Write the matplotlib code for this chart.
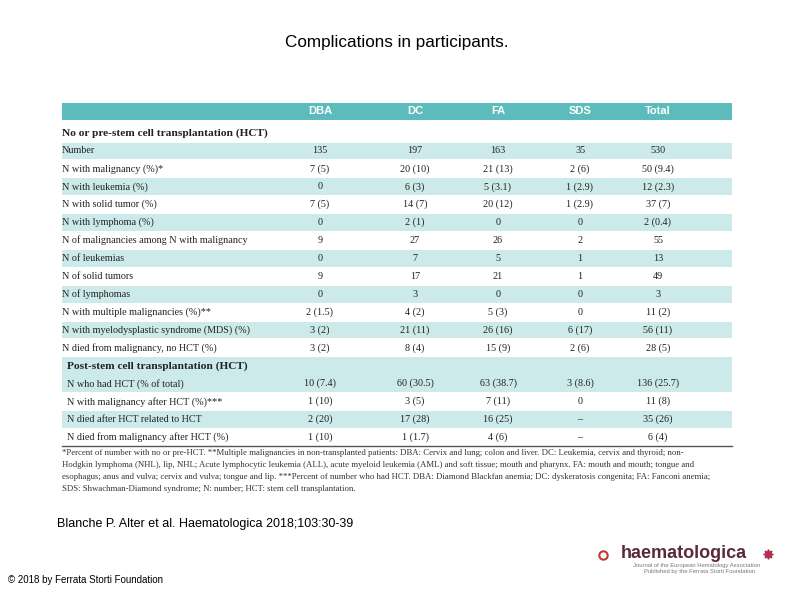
import matplotlib.pyplot as plt
from matplotlib.patches import Rectangle

W, H = 794, 595

columns = ["DBA", "DC", "FA", "SDS", "Total"]
col_x = [320, 415, 498, 580, 658]

section1 = "No or pre-stem cell transplantation (HCT)"
rows1 = [
    "Number",
    "N with malignancy (%)*",
    "N with leukemia (%)",
    "N with solid tumor (%)",
    "N with lymphoma (%)",
    "N of malignancies among N with malignancy",
    "N of leukemias",
    "N of solid tumors",
    "N of lymphomas",
    "N with multiple malignancies (%)**",
    "N with myelodysplastic syndrome (MDS) (%)",
    "N died from malignancy, no HCT (%)",
]
values1 = [
    ["135", "197", "163", "35", "530"],
    ["7 (5)", "20 (10)", "21 (13)", "2 (6)", "50 (9.4)"],
    ["0", "6 (3)", "5 (3.1)", "1 (2.9)", "12 (2.3)"],
    ["7 (5)", "14 (7)", "20 (12)", "1 (2.9)", "37 (7)"],
    ["0", "2 (1)", "0", "0", "2 (0.4)"],
    ["9", "27", "26", "2", "55"],
    ["0", "7", "5", "1", "13"],
    ["9", "17", "21", "1", "49"],
    ["0", "3", "0", "0", "3"],
    ["2 (1.5)", "4 (2)", "5 (3)", "0", "11 (2)"],
    ["3 (2)", "21 (11)", "26 (16)", "6 (17)", "56 (11)"],
    ["3 (2)", "8 (4)", "15 (9)", "2 (6)", "28 (5)"],
]

section2 = "Post-stem cell transplantation (HCT)"
rows2 = [
    "N who had HCT (% of total)",
    "N with malignancy after HCT (%)***",
    "N died after HCT related to HCT",
    "N died from malignancy after HCT (%)",
]
values2 = [
    ["10 (7.4)", "60 (30.5)", "63 (38.7)", "3 (8.6)", "136 (25.7)"],
    ["1 (10)", "3 (5)", "7 (11)", "0", "11 (8)"],
    ["2 (20)", "17 (28)", "16 (25)", "\u2013", "35 (26)"],
    ["1 (10)", "1 (1.7)", "4 (6)", "\u2013", "6 (4)"],
]

footnote = [
    "*Percent of number with no or pre-HCT. **Multiple malignancies in non-transplanted patients: DBA: Cervix and lung; colon and liver. DC: Leukemia, cervix and thyroid; non-",
    "Hodgkin lymphoma (NHL), lip, NHL; Acute lymphocytic leukemia (ALL), acute myeloid leukemia (AML) and soft tissue; mouth and pharynx. FA: mouth and mouth; tongue and",
    "esophagus; anus and vulva; cervix and vulva; tongue and lip. ***Percent of number who had HCT. DBA: Diamond Blackfan anemia; DC: dyskeratosis congenita; FA: Fanconi anemia;",
    "SDS: Shwachman-Diamond syndrome; N: number; HCT: stem cell transplantation.",
]

teal = "#5cbcbc"
light = "#cdeaea"
serif = ["Liberation Serif", "DejaVu Serif"]
narrow = ["Liberation Sans Narrow", "Liberation Sans", "DejaVu Sans"]
sans = ["Liberation Sans", "DejaVu Sans"]

fig = plt.figure(figsize=(W / 100, H / 100), dpi=100)
ax = fig.add_axes([0, 0, 1, 1])
ax.set_xlim(0, W)
ax.set_ylim(H, 0)
ax.axis("off")

left, right = 62, 732
rh = 17.9

# header band
ax.add_patch(Rectangle((left, 103), right - left, 17, color=teal, lw=0))
for c, x in zip(columns, col_x):
    ax.text(x, 111.5, c, ha="center", va="center", color="white",
            fontsize=8, fontweight="bold", family=narrow)

ax.text(left, 133, section1, ha="left", va="center", fontsize=8.2,
        fontweight="bold", family=serif, color="#222222")

top = 142
for i, (lab, vals) in enumerate(zip(rows1, values1)):
    y0 = top + i * rh
    if i % 2 == 0:
        ax.add_patch(Rectangle((left, y0 + 0.5), right - left, rh - 1,
                               color=light, lw=0))
    yc = y0 + rh / 2
    ax.text(left, yc, lab, ha="left", va="center", fontsize=7.3,
            family=serif, color="#222222")
    for v, x in zip(vals, col_x):
        ax.text(x, yc, v, ha="center", va="center", fontsize=7.3,
                family=serif, color="#222222")

# second section
y0 = top + len(rows1) * rh
ax.add_patch(Rectangle((left, y0 + 0.5), right - left, 2 * rh - 1,
                       color=light, lw=0))
ax.text(left + 5, y0 + rh / 2, section2, ha="left", va="center",
        fontsize=8.2, fontweight="bold", family=serif, color="#222222")
for i, (lab, vals) in enumerate(zip(rows2, values2)):
    yr = y0 + (i + 1) * rh
    if i > 0 and i % 2 == 0:
        ax.add_patch(Rectangle((left, yr + 0.5), right - left, rh - 1,
                               color=light, lw=0))
    yc = yr + rh / 2
    ax.text(left + 5, yc, lab, ha="left", va="center", fontsize=7.3,
            family=serif, color="#222222")
    for v, x in zip(vals, col_x):
        ax.text(x, yc, v, ha="center", va="center", fontsize=7.3,
                family=serif, color="#222222")

bottom = y0 + (len(rows2) + 1) * rh
ax.plot([left, right], [bottom, bottom], color="#555555", lw=1)

for k, line in enumerate(footnote):
    ax.text(left, bottom + 7 + k * 12, line, ha="left", va="center",
            fontsize=6.35, family=serif, color="#333333")

ax.text(397, 42, "Complications in participants.", ha="center",
        va="center", fontsize=12.3, family=sans, color="black")
ax.text(57, 524, "Blanche P. Alter et al. Haematologica 2018;103:30-39",
        ha="left", va="center", fontsize=9, family=sans, color="black")
ax.text(8, 580, "\u00a9 2018 by Ferrata Storti Foundation", ha="left",
        va="center", fontsize=7, family=sans, color="black")

# journal logo
ax.text(621, 553, "haematologica", ha="left", va="center", fontsize=13,
        fontweight="bold", family=sans, color="#5a2a3a")
ax.plot(603, 555, "o", ms=6, mfc="white", mec="#c0392b", mew=1.5)
ax.text(633, 565, "Journal of the European Hematology Association", ha="left",
        va="center", fontsize=4.2, family=sans, color="#777777")
ax.plot(768, 554, marker=(8, 1, 0), ms=7, color="#b03050")
ax.text(644, 572, "Published by the Ferrata Storti Foundation", ha="left",
        va="center", fontsize=4.2, family=sans, color="#777777")

fig.savefig("out.png", dpi=100)
